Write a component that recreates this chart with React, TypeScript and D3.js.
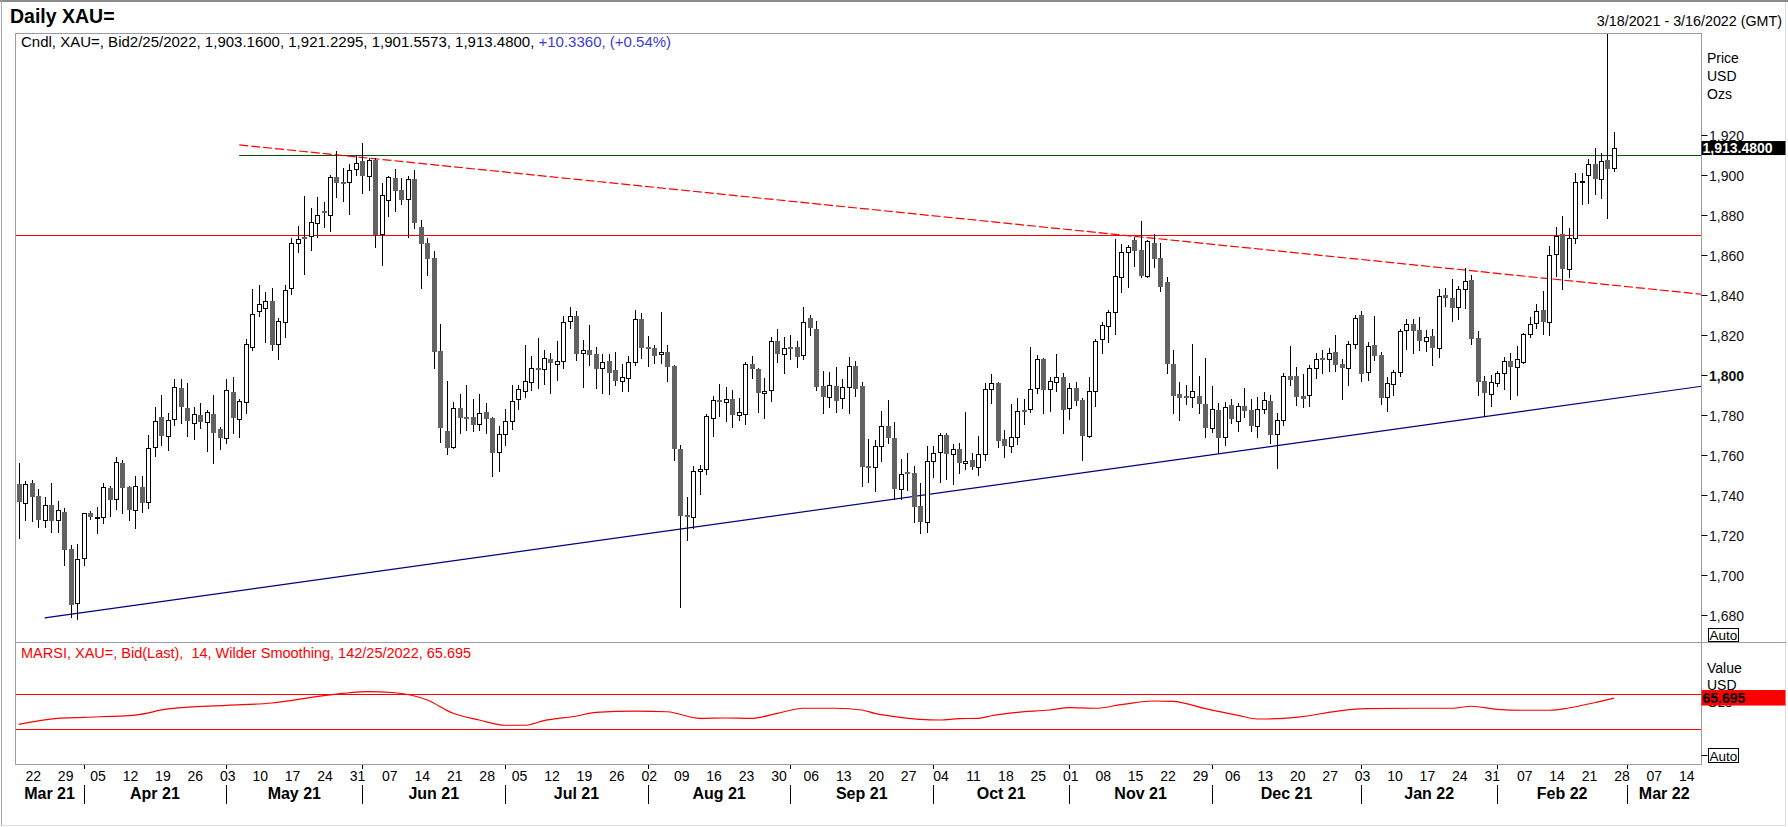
import React, { useEffect, useRef } from 'react';
import * as d3 from 'd3';

const W = 1788;
const H = 827;

// Daily OHLC for XAU=, one entry per trading day starting 3/18/2021 (last = 2/25/2022)
const openP = [
  1745.2, 1735.6, 1745.6, 1739.3, 1727.3, 1734.8, 1727.3, 1731.3, 1712.8, 1685.6,
  1708.1, 1730.6, 1728.5, 1728.6, 1743.4, 1737.6, 1755.9, 1743.9, 1732.3, 1743.9,
  1736.4, 1763.6, 1778.9, 1769.4, 1777.8, 1793.4, 1783.4, 1775.9, 1779.8, 1776.4,
  1780.3, 1772.8, 1768.1, 1791.3, 1777.6, 1786.4, 1813.9, 1831.9, 1833.1, 1836.8,
  1815.1, 1826.1, 1843.1, 1865.6, 1869.0, 1869.3, 1875.6, 1881.9, 1879.8, 1898.6,
  1896.2, 1896.1, 1902.6, 1906.8, 1899.1, 1907.3, 1870.1, 1887.1, 1898.3, 1892.3,
  1887.6, 1897.8, 1873.6, 1865.8, 1858.1, 1811.8, 1771.8, 1763.9, 1783.1, 1778.6,
  1778.8, 1775.1, 1781.3, 1778.4, 1761.1, 1770.1, 1776.8, 1787.8, 1791.6, 1796.4,
  1803.1, 1802.6, 1807.8, 1805.4, 1806.9, 1826.9, 1829.3, 1810.9, 1812.3, 1810.3,
  1803.1, 1806.8, 1802.3, 1796.9, 1798.4, 1806.4, 1827.8, 1813.6, 1813.1, 1810.1,
  1811.1, 1804.3, 1762.8, 1729.6, 1728.9, 1751.6, 1752.6, 1778.1, 1787.3, 1786.1,
  1787.6, 1779.9, 1780.1, 1805.1, 1802.8, 1790.6, 1792.1, 1816.8, 1810.1, 1813.6,
  1813.6, 1809.6, 1828.1, 1822.6, 1794.3, 1788.9, 1794.3, 1788.1, 1793.6, 1804.1,
  1794.3, 1754.1, 1753.9, 1764.3, 1774.3, 1768.1, 1742.6, 1751.3, 1750.6, 1734.3,
  1726.4, 1756.8, 1761.4, 1769.8, 1760.1, 1762.8, 1755.6, 1757.3, 1753.9, 1760.1,
  1792.8, 1795.6, 1767.6, 1764.4, 1768.9, 1782.3, 1782.6, 1793.1, 1807.6, 1792.6,
  1796.4, 1798.6, 1783.1, 1793.3, 1787.3, 1769.4, 1791.8, 1817.6, 1824.3, 1831.1,
  1848.6, 1861.1, 1867.3, 1862.3, 1849.4, 1865.6, 1858.1, 1846.1, 1805.3, 1790.3,
  1789.3, 1788.6, 1789.3, 1785.3, 1773.1, 1782.3, 1768.6, 1784.8, 1776.9, 1784.3,
  1782.3, 1774.4, 1782.6, 1786.8, 1770.1, 1777.3, 1799.3, 1799.3, 1789.3, 1789.6,
  1803.1, 1808.1, 1807.6, 1811.1, 1805.1, 1803.4, 1815.1, 1829.8, 1801.1, 1814.8,
  1809.8, 1788.9, 1795.3, 1801.1, 1822.3, 1825.1, 1822.3, 1816.9, 1819.3, 1813.1,
  1839.8, 1838.1, 1833.6, 1842.6, 1847.3, 1818.1, 1796.8, 1790.3, 1795.6, 1800.6,
  1806.8, 1803.9, 1806.4, 1820.1, 1825.6, 1832.3, 1826.1, 1860.1, 1870.1, 1852.6,
  1868.1, 1896.8, 1899.8, 1905.1, 1897.6, 1907.3, 1903.16,
];
const highP = [
  1755.9, 1746.7, 1747.3, 1742.8, 1738.6, 1745.6, 1736.8, 1733.4, 1714.8, 1715.3,
  1730.6, 1731.9, 1733.9, 1745.9, 1744.4, 1758.9, 1757.3, 1744.5, 1749.3, 1749.3,
  1769.8, 1783.9, 1789.8, 1780.6, 1797.6, 1797.6, 1795.6, 1783.9, 1785.6, 1782.3,
  1789.6, 1773.9, 1797.8, 1798.9, 1787.8, 1817.8, 1842.8, 1844.8, 1841.1, 1843.4,
  1828.4, 1844.8, 1868.1, 1874.3, 1889.3, 1883.1, 1888.6, 1886.4, 1899.8, 1911.8,
  1903.1, 1905.1, 1909.8, 1915.8, 1908.4, 1908.4, 1895.6, 1899.3, 1902.6, 1898.1,
  1899.3, 1902.3, 1877.1, 1868.4, 1861.8, 1825.1, 1796.8, 1786.1, 1790.3, 1794.8,
  1787.8, 1790.1, 1785.6, 1778.9, 1774.1, 1782.8, 1794.8, 1794.8, 1814.8, 1809.3,
  1818.1, 1812.3, 1810.6, 1816.8, 1829.3, 1833.9, 1831.8, 1817.3, 1824.8, 1813.6,
  1810.3, 1810.3, 1811.1, 1805.3, 1809.4, 1832.3, 1830.6, 1819.4, 1814.8, 1831.4,
  1814.8, 1804.8, 1764.8, 1738.9, 1754.3, 1754.8, 1780.1, 1789.3, 1795.1, 1793.6,
  1792.3, 1788.3, 1806.1, 1809.3, 1803.1, 1798.1, 1818.9, 1822.6, 1818.9, 1819.8,
  1816.8, 1833.8, 1829.8, 1826.8, 1801.8, 1801.4, 1803.6, 1797.6, 1808.6, 1806.8,
  1796.1, 1767.6, 1767.3, 1781.8, 1787.3, 1776.1, 1757.6, 1760.6, 1754.4, 1745.9,
  1764.3, 1764.3, 1770.9, 1770.6, 1765.3, 1765.6, 1781.1, 1760.9, 1769.3, 1795.6,
  1800.1, 1796.1, 1772.3, 1785.1, 1788.1, 1787.6, 1813.9, 1809.8, 1808.1, 1798.9,
  1810.3, 1800.6, 1795.6, 1796.3, 1788.1, 1798.6, 1817.8, 1826.4, 1832.3, 1867.8,
  1865.1, 1864.8, 1868.9, 1876.8, 1867.3, 1870.3, 1865.6, 1848.6, 1812.3, 1796.4,
  1794.8, 1815.3, 1799.3, 1808.4, 1794.3, 1785.9, 1786.4, 1787.8, 1785.6, 1793.4,
  1787.8, 1788.9, 1791.4, 1789.8, 1780.6, 1800.6, 1814.3, 1803.9, 1800.3, 1804.8,
  1810.6, 1812.3, 1813.1, 1819.8, 1807.6, 1816.8, 1829.8, 1831.8, 1816.1, 1829.3,
  1811.4, 1798.9, 1802.3, 1822.6, 1827.6, 1827.6, 1828.9, 1822.3, 1822.8, 1842.6,
  1843.1, 1847.6, 1844.3, 1853.1, 1849.8, 1821.8, 1799.3, 1799.8, 1801.9, 1808.6,
  1810.9, 1814.4, 1820.6, 1828.6, 1835.1, 1841.8, 1864.4, 1873.9, 1879.3, 1873.1,
  1900.9, 1900.6, 1907.6, 1913.1, 1910.6, 1974.0, 1921.2295,
];
const lowP = [
  1718.4, 1727.2, 1726.8, 1723.9, 1723.6, 1721.4, 1721.4, 1704.8, 1678.9, 1677.8,
  1704.8, 1727.9, 1720.6, 1726.0, 1729.4, 1732.6, 1730.6, 1727.3, 1723.1, 1731.4,
  1733.4, 1759.4, 1764.8, 1762.3, 1774.8, 1775.6, 1769.3, 1767.8, 1773.1, 1761.9,
  1755.9, 1762.8, 1765.6, 1770.6, 1768.9, 1780.9, 1812.3, 1829.4, 1816.1, 1812.3,
  1807.8, 1818.9, 1840.3, 1861.4, 1850.3, 1862.3, 1868.9, 1873.9, 1871.9, 1888.9,
  1886.8, 1880.4, 1899.8, 1890.9, 1892.3, 1863.9, 1854.8, 1879.4, 1881.9, 1885.1,
  1868.9, 1873.1, 1843.4, 1849.8, 1803.4, 1766.4, 1760.3, 1763.1, 1770.9, 1772.3,
  1771.9, 1772.3, 1770.6, 1749.4, 1751.9, 1764.8, 1772.8, 1782.8, 1788.9, 1792.3,
  1793.4, 1795.1, 1790.6, 1797.3, 1803.1, 1823.1, 1807.3, 1793.9, 1804.8, 1793.4,
  1790.9, 1790.1, 1794.8, 1791.8, 1791.8, 1804.8, 1808.1, 1804.4, 1805.6, 1805.6,
  1796.8, 1757.3, 1684.0, 1717.3, 1723.1, 1740.3, 1750.3, 1769.4, 1779.3, 1776.8,
  1773.9, 1777.3, 1775.3, 1798.4, 1781.4, 1778.4, 1786.9, 1806.4, 1800.6, 1807.6,
  1803.6, 1807.6, 1819.8, 1792.3, 1780.9, 1783.6, 1781.4, 1783.4, 1780.9, 1789.4,
  1744.4, 1746.4, 1741.9, 1756.9, 1765.9, 1737.6, 1737.6, 1742.3, 1726.4, 1720.6,
  1721.4, 1748.9, 1746.4, 1747.6, 1745.1, 1750.6, 1752.6, 1752.6, 1749.8, 1757.3,
  1785.6, 1763.6, 1758.9, 1761.4, 1765.3, 1775.3, 1781.4, 1790.9, 1780.9, 1781.9,
  1791.9, 1770.9, 1777.6, 1784.8, 1757.3, 1768.6, 1784.3, 1810.9, 1816.4, 1820.3,
  1841.4, 1843.6, 1854.4, 1848.6, 1848.6, 1853.9, 1841.9, 1800.9, 1780.9, 1777.3,
  1785.1, 1783.6, 1780.6, 1768.9, 1771.4, 1760.6, 1764.8, 1775.6, 1771.9, 1778.9,
  1771.9, 1768.6, 1780.6, 1765.9, 1753.4, 1774.8, 1794.8, 1784.8, 1783.6, 1784.3,
  1798.1, 1800.6, 1801.9, 1801.9, 1787.8, 1794.8, 1813.4, 1796.9, 1797.3, 1807.3,
  1785.3, 1781.9, 1789.8, 1799.3, 1812.8, 1810.9, 1812.3, 1811.9, 1804.8, 1808.9,
  1834.4, 1826.9, 1827.8, 1833.4, 1815.3, 1789.8, 1779.3, 1784.4, 1794.3, 1792.6,
  1787.6, 1789.8, 1805.6, 1818.9, 1823.1, 1820.3, 1819.8, 1849.3, 1842.8, 1848.6,
  1865.9, 1885.3, 1885.9, 1890.1, 1888.1, 1878.1, 1901.5573,
];
const closeP = [
  1736.4, 1745.1, 1738.9, 1727.3, 1734.6, 1726.9, 1732.3, 1712.3, 1684.8, 1707.6,
  1730.6, 1728.9, 1729.0, 1743.6, 1737.3, 1756.1, 1743.1, 1732.3, 1744.3, 1735.9,
  1763.1, 1776.8, 1769.4, 1777.3, 1793.9, 1783.9, 1776.8, 1780.3, 1776.4, 1781.1,
  1770.9, 1768.4, 1792.3, 1778.4, 1786.8, 1815.1, 1830.1, 1835.3, 1836.8, 1814.8,
  1826.8, 1842.1, 1865.6, 1867.8, 1868.6, 1876.1, 1879.8, 1880.6, 1898.6, 1895.9,
  1895.9, 1902.1, 1905.6, 1899.4, 1907.1, 1869.8, 1889.8, 1898.6, 1891.9, 1887.3,
  1897.6, 1875.9, 1865.4, 1857.8, 1811.4, 1773.4, 1763.4, 1783.1, 1778.4, 1778.4,
  1774.8, 1780.6, 1777.9, 1760.9, 1770.1, 1776.8, 1786.8, 1792.9, 1796.6, 1803.1,
  1802.3, 1808.1, 1805.6, 1806.9, 1826.4, 1829.1, 1810.3, 1812.1, 1809.8, 1802.8,
  1806.4, 1800.6, 1796.8, 1798.6, 1806.4, 1827.8, 1813.1, 1813.1, 1809.4, 1811.1,
  1803.9, 1762.6, 1729.4, 1728.9, 1751.6, 1752.6, 1779.3, 1787.1, 1786.1, 1787.6,
  1779.9, 1781.1, 1805.1, 1802.6, 1790.6, 1791.9, 1816.8, 1810.1, 1813.1, 1813.1,
  1808.9, 1826.1, 1823.1, 1793.9, 1788.9, 1794.6, 1786.9, 1793.6, 1804.1, 1792.6,
  1753.6, 1753.6, 1764.1, 1774.1, 1768.1, 1742.6, 1750.1, 1750.1, 1733.9, 1726.4,
  1756.8, 1760.6, 1769.8, 1760.1, 1762.6, 1755.6, 1756.8, 1753.9, 1760.1, 1792.8,
  1795.6, 1766.9, 1764.3, 1768.9, 1781.8, 1781.9, 1792.6, 1807.6, 1792.3, 1796.8,
  1798.6, 1782.3, 1793.1, 1786.9, 1769.3, 1791.8, 1816.8, 1824.6, 1831.1, 1849.3,
  1861.1, 1863.6, 1861.9, 1849.4, 1866.8, 1857.8, 1843.9, 1805.1, 1789.4, 1788.4,
  1788.6, 1791.6, 1785.1, 1773.4, 1782.6, 1768.1, 1783.6, 1777.8, 1784.3, 1781.9,
  1774.4, 1782.6, 1787.3, 1769.8, 1777.3, 1799.3, 1797.3, 1788.9, 1787.9, 1803.1,
  1807.6, 1807.6, 1810.6, 1804.8, 1803.4, 1815.1, 1828.1, 1800.3, 1814.4, 1809.4,
  1788.4, 1795.6, 1801.1, 1821.8, 1825.1, 1821.9, 1816.9, 1818.6, 1813.4, 1839.4,
  1838.1, 1833.1, 1842.6, 1846.9, 1817.8, 1796.4, 1790.9, 1796.4, 1800.6, 1806.8,
  1803.9, 1807.6, 1820.1, 1825.1, 1831.9, 1826.4, 1859.8, 1869.4, 1852.6, 1868.1,
  1896.4, 1896.9, 1905.1, 1897.6, 1906.9, 1902.6, 1913.48,
];

// MARSI(14, Wilder) readings
const rsiDates = [
  '2021-03-18', '2021-03-26', '2021-04-01', '2021-04-13', '2021-04-20', '2021-05-03', '2021-05-12',
  '2021-05-14', '2021-05-27', '2021-06-02', '2021-06-08', '2021-06-15', '2021-06-21', '2021-06-25',
  '2021-07-01', '2021-07-06', '2021-07-09', '2021-07-16', '2021-07-21', '2021-07-29', '2021-08-05',
  '2021-08-12', '2021-08-18', '2021-08-24', '2021-08-30', '2021-09-03', '2021-09-10', '2021-09-16',
  '2021-09-20', '2021-09-24', '2021-09-29', '2021-10-04', '2021-10-07', '2021-10-12', '2021-10-14',
  '2021-10-20', '2021-10-27', '2021-11-01', '2021-11-05', '2021-11-11', '2021-11-18', '2021-11-23',
  '2021-11-30', '2021-12-07', '2021-12-10', '2021-12-16', '2021-12-22', '2021-12-27', '2022-01-04',
  '2022-01-13', '2022-01-21', '2022-01-26', '2022-02-01', '2022-02-07', '2022-02-11', '2022-02-16',
  '2022-02-22', '2022-02-25',
];
const rsiValues = [
  35.4, 42.3, 43.5, 46.1, 53.1, 57.3, 60.0,
  61.9, 71.1, 73.0, 71.8, 63.4, 48.1, 40.4,
  34.3, 34.3, 39.6, 45.0, 49.2, 50.7, 49.9,
  42.3, 42.7, 42.3, 48.1, 53.9, 53.9, 51.9,
  48.1, 43.5, 41.2, 40.4, 41.9, 42.3, 45.3,
  49.2, 51.9, 54.6, 53.9, 58.0, 62.3, 61.9,
  53.4, 45.8, 41.5, 42.3, 45.3, 49.2, 53.4,
  53.9, 53.9, 56.2, 52.7, 51.6, 51.6, 54.2,
  60.3, 65.695,
];

const priceTicks = [1680, 1700, 1720, 1740, 1760, 1780, 1800, 1820, 1840, 1860, 1880, 1900, 1920];
const rsiLevels = [70, 30];

// drawn lines: [date, price]
const resistance = 1870;
const topLine: [string, number][] = [['2021-05-05', 1910], ['2022-03-16', 1910]];
const downTrend: [string, number][] = [['2021-05-05', 1914.8], ['2022-03-16', 1840.3]];
const upTrend: [string, number][] = [['2021-03-24', 1678.3], ['2022-03-16', 1793.9]];

const App: React.FC = () => {
  const svgRef = useRef<SVGSVGElement>(null);

  useEffect(() => {
    if (!svgRef.current) return;
    const svg = d3.select(svgRef.current);
    svg.selectAll('*').remove();
    svg.attr('font-family', 'Arial, "Liberation Sans", sans-serif');

    const left = 15.5, right = 1701.5;
    const pTop = 33.5, pBot = 642.5, rBot = 764.5;
    const axisCol = '#9a9aaa';

    const key = d3.timeFormat('%Y-%m-%d');
    const days = d3.timeDay
      .range(new Date(2021, 2, 18), new Date(2022, 2, 17))
      .filter(d => d.getDay() % 6 !== 0);
    const x = d3.scaleBand<string>().domain(days.map(key)).range([left, right]);
    const step = x.step();
    const cx = (k: string) => x(k)! + step / 2;

    const y = d3.scaleLinear().domain([1680, 1920]).range([614.5, 134.5]);
    const yr = d3.scaleLinear().domain([30, 70]).range([729, 694.3]);

    // window frame
    svg.append('rect').attr('width', W).attr('height', H).attr('fill', '#fff');
    svg.append('rect').attr('x', 0).attr('y', 0).attr('width', W).attr('height', 2).attr('fill', '#8a8a8a');
    svg.append('line').attr('x1', 1.5).attr('x2', 1.5).attr('y1', 0).attr('y2', 826).attr('stroke', '#a8a8a8');
    svg.append('line').attr('x1', 1785.5).attr('x2', 1785.5).attr('y1', 2).attr('y2', 826).attr('stroke', '#dcdcdc');
    svg.append('line').attr('x1', 1.5).attr('x2', 1785.5).attr('y1', 825.5).attr('y2', 825.5).attr('stroke', '#dcdcdc');

    // clips
    const defs = svg.append('defs');
    defs.append('clipPath').attr('id', 'clipP')
      .append('rect').attr('x', left).attr('y', pTop).attr('width', right - left).attr('height', pBot - pTop);
    defs.append('clipPath').attr('id', 'clipR')
      .append('rect').attr('x', left).attr('y', pBot).attr('width', right - left).attr('height', rBot - pBot);

    // titles
    svg.append('text').attr('x', 10).attr('y', 23).attr('font-size', 19.5).attr('font-weight', 'bold')
      .text('Daily XAU=');
    svg.append('text').attr('x', 1782).attr('y', 26).attr('font-size', 14.3).attr('text-anchor', 'end')
      .text('3/18/2021 - 3/16/2022 (GMT)');

    const pg = svg.append('g').attr('clip-path', 'url(#clipP)');

    // horizontal / trend lines (under the candles)
    const lineThrough = (pts: [string, number][], yS: (v: number) => number) => {
      const [a, b] = pts;
      const x1 = cx(a[0]), y1 = yS(a[1]), x2 = cx(b[0]), y2 = yS(b[1]);
      const slope = (y2 - y1) / (x2 - x1);
      return { x1, y1, x2: right, y2: y1 + slope * (right - x1) };
    };
    pg.append('line').attr('x1', left).attr('x2', right)
      .attr('y1', Math.round(y(resistance)) + 0.5).attr('y2', Math.round(y(resistance)) + 0.5)
      .attr('stroke', '#ff0000').attr('stroke-width', 1.2);
    const tl = lineThrough(topLine, y);
    pg.append('line').attr('x1', tl.x1).attr('x2', tl.x2)
      .attr('y1', Math.round(tl.y1) + 0.5).attr('y2', Math.round(tl.y2) + 0.5)
      .attr('stroke', '#0b4f0b').attr('stroke-width', 1.2);
    const dt = lineThrough(downTrend, y);
    pg.append('line').attr('x1', dt.x1).attr('y1', dt.y1).attr('x2', dt.x2).attr('y2', dt.y2)
      .attr('stroke', '#ff0000').attr('stroke-width', 1.2).attr('stroke-dasharray', '9,3');
    const ut = lineThrough(upTrend, y);
    pg.append('line').attr('x1', ut.x1).attr('y1', ut.y1).attr('x2', ut.x2).attr('y2', ut.y2)
      .attr('stroke', '#000080').attr('stroke-width', 1.2);

    // candles
    closeP.forEach((c, i) => {
      const k = key(days[i]);
      const xc = Math.round(cx(k));
      const o = openP[i];
      pg.append('line').attr('x1', xc + 0.5).attr('x2', xc + 0.5)
        .attr('y1', Math.round(y(highP[i]))).attr('y2', Math.round(y(lowP[i])) + 1)
        .attr('stroke', '#000').attr('stroke-width', 1);
      const yTop = Math.round(y(Math.max(o, c)));
      const yBot = Math.round(y(Math.min(o, c)));
      if (c >= o) {
        pg.append('rect').attr('x', xc - 1.5).attr('y', yTop + 0.5)
          .attr('width', 4).attr('height', Math.max(yBot - yTop, 1))
          .attr('fill', '#fff').attr('stroke', '#000').attr('stroke-width', 1);
      } else {
        pg.append('rect').attr('x', xc - 2).attr('y', yTop)
          .attr('width', 5).attr('height', Math.max(yBot - yTop, 2))
          .attr('fill', '#626262');
      }
    });

    // legend
    const leg = svg.append('text').attr('x', 21).attr('y', 47).attr('font-size', 15);
    leg.append('tspan').attr('fill', '#000')
      .text('Cndl, XAU=, Bid2/25/2022, 1,903.1600, 1,921.2295, 1,901.5573, 1,913.4800, ');
    leg.append('tspan').attr('fill', '#3c3cd6').text('+10.3360, (+0.54%)');

    // RSI panel
    const rg = svg.append('g').attr('clip-path', 'url(#clipR)');
    rsiLevels.forEach(v => {
      rg.append('line').attr('x1', left).attr('x2', right)
        .attr('y1', Math.round(yr(v)) + 0.5).attr('y2', Math.round(yr(v)) + 0.5)
        .attr('stroke', '#ff0000').attr('stroke-width', 1.2);
    });
    const rsiLine = d3.line<number>()
      .x((_, i) => cx(rsiDates[i]))
      .y(v => yr(v))
      .curve(d3.curveMonotoneX);
    rg.append('path').attr('d', rsiLine(rsiValues)!)
      .attr('fill', 'none').attr('stroke', '#ff0000').attr('stroke-width', 1.2);
    svg.append('text').attr('x', 21).attr('y', 658).attr('font-size', 14.5).attr('fill', '#ff0000')
      .attr('xml:space', 'preserve')
      .text('MARSI, XAU=, Bid(Last),  14, Wilder Smoothing, 142/25/2022, 65.695');

    // panel borders
    svg.append('rect').attr('x', left).attr('y', pTop).attr('width', right - left).attr('height', rBot - pTop)
      .attr('fill', 'none').attr('stroke', axisCol);
    svg.append('line').attr('x1', left).attr('x2', 1786).attr('y1', pBot).attr('y2', pBot).attr('stroke', axisCol);

    // price axis
    priceTicks.forEach(v => {
      const yy = Math.round(y(v)) + 0.5;
      svg.append('line').attr('x1', right).attr('x2', right + 6).attr('y1', yy).attr('y2', yy).attr('stroke', '#000');
      svg.append('text').attr('x', right + 7.5).attr('y', yy + 5).attr('font-size', 14)
        .attr('font-weight', v === 1800 ? 'bold' : 'normal').attr('fill', '#111')
        .text(d3.format(',')(v));
    });
    ['Price', 'USD', 'Ozs'].forEach((t, i) => {
      svg.append('text').attr('x', 1707).attr('y', 63 + i * 18).attr('font-size', 14).text(t);
    });
    const last = closeP[closeP.length - 1];
    svg.append('rect').attr('x', right).attr('y', y(last) - 6.5).attr('width', 84).attr('height', 14)
      .attr('fill', '#000');
    svg.append('text').attr('x', right + 1).attr('y', y(last) + 5.5).attr('font-size', 14)
      .attr('font-weight', 'bold').attr('fill', '#fff').text(d3.format(',.4f')(last));
    svg.append('rect').attr('x', 1708.5).attr('y', 628.5).attr('width', 30).attr('height', 13)
      .attr('fill', '#fff').attr('stroke', '#000');
    svg.append('text').attr('x', 1709.5).attr('y', 640).attr('font-size', 13.5).text('Auto');

    // RSI axis
    ['Value', 'USD', 'Ozs'].forEach((t, i) => {
      svg.append('text').attr('x', 1707).attr('y', 673 + i * 17).attr('font-size', 14).text(t);
    });
    const lastR = rsiValues[rsiValues.length - 1];
    svg.append('rect').attr('x', right).attr('y', yr(lastR) - 8).attr('width', 84).attr('height', 15.5)
      .attr('fill', '#ff0000');
    svg.append('text').attr('x', right + 1).attr('y', yr(lastR) + 5).attr('font-size', 14)
      .attr('font-weight', 'bold').attr('fill', '#000').text(d3.format('.3f')(lastR));
    svg.append('line').attr('x1', right).attr('x2', right + 6).attr('y1', 755.5).attr('y2', 755.5).attr('stroke', '#000');
    svg.append('rect').attr('x', 1708.5).attr('y', 748.5).attr('width', 30).attr('height', 14)
      .attr('fill', '#fff').attr('stroke', '#000');
    svg.append('text').attr('x', 1709.5).attr('y', 761).attr('font-size', 13.5).text('Auto');

    // date axis
    const mondays = days.filter(d => d.getDay() === 1);
    mondays.forEach(d => {
      svg.append('text').attr('x', cx(key(d)) + 1.5).attr('y', 781).attr('font-size', 14)
        .attr('text-anchor', 'middle').text(d3.timeFormat('%d')(d));
    });
    const monthStarts = days.filter((d, i) => i > 0 && d.getMonth() !== days[i - 1].getMonth());
    const bounds = [left, ...monthStarts.map(d => cx(key(d))), right];
    monthStarts.forEach(d => {
      const xx = Math.round(cx(key(d))) + 0.5;
      svg.append('line').attr('x1', xx).attr('x2', xx).attr('y1', 765).attr('y2', 769).attr('stroke', '#000');
      svg.append('line').attr('x1', xx).attr('x2', xx).attr('y1', 785).attr('y2', 804).attr('stroke', '#000');
    });
    const monthFirsts = [days[0], ...monthStarts];
    monthFirsts.forEach((d, i) => {
      svg.append('text').attr('x', (bounds[i] + bounds[i + 1]) / 2).attr('y', 799)
        .attr('font-size', 16).attr('font-weight', 'bold').attr('text-anchor', 'middle')
        .text(d3.timeFormat('%b %y')(d));
    });
  }, []);

  return (
    <svg
      ref={svgRef}
      width={W}
      height={H}
      style={{ position: 'absolute', left: 0, top: 0, display: 'block' }}
    />
  );
};

export default App;
